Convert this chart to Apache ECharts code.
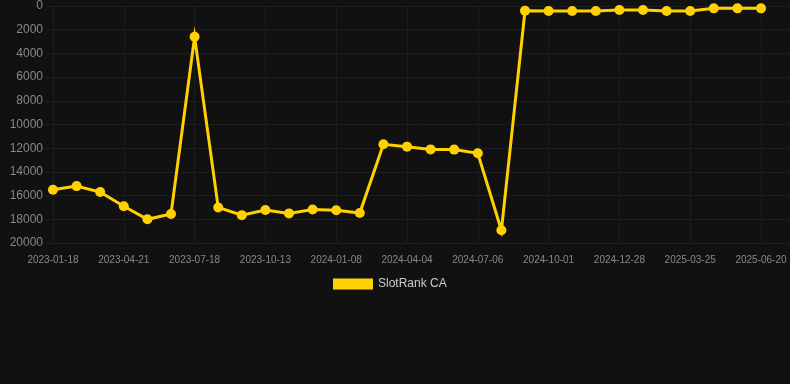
<!DOCTYPE html>
<html>
<head>
<meta charset="utf-8">
<script src="https://cdn.jsdelivr.net/npm/echarts@6/dist/echarts.min.js"></script>
<style>
html,body{margin:0;padding:0;background:#111111;}
#chart{width:790px;height:384px;}
</style>
</head>
<body>
<div id="chart"></div>
<script>
const categories = [
  "2023-01-18","2023-02-18","2023-03-20","2023-04-21","2023-05-20","2023-06-18",
  "2023-07-18","2023-08-17","2023-09-15","2023-10-13","2023-11-11","2023-12-10",
  "2024-01-08","2024-02-06","2024-03-06","2024-04-04","2024-05-05","2024-06-05",
  "2024-07-06","2024-08-04","2024-09-02","2024-10-01","2024-10-30","2024-11-28",
  "2024-12-28","2025-01-26","2025-02-24","2025-03-25","2025-04-23","2025-05-22",
  "2025-06-20"
];
const slotRankCA = [
  15500, 15200, 15700, 16900, 18000, 17550,
  2600, 17000, 17650, 17220, 17500, 17170,
  17240, 17470, 11670, 11870, 12100, 12120,
  12430, 18930, 400, 420, 420, 420,
  340, 340, 420, 420, 200, 200,
  200
];
const seriesName = "SlotRank CA";
const font = 'Arial, "Liberation Sans", sans-serif';
const gridColor = '#1d1d1d';

const chart = echarts.init(document.getElementById('chart'));
chart.setOption({
  backgroundColor: '#111111',
  animation: false,
  grid: [
    { left: 53, right: 29, top: 6, bottom: 141 },
    { left: 45, right: 0, top: 6, bottom: 141 }
  ],
  legend: {
    data: [seriesName],
    top: 273,
    left: 328,
    icon: 'rect',
    itemWidth: 40,
    itemHeight: 11,
    textStyle: { color: '#cccccc', fontSize: 12, fontFamily: font }
  },
  xAxis: [{
    type: 'category',
    data: categories,
    boundaryGap: false,
    axisLine: { show: false },
    axisTick: { show: false },
    axisLabel: { interval: 2, color: '#888888', fontSize: 10, margin: 12, fontFamily: font },
    splitLine: { show: true, interval: 2, lineStyle: { color: gridColor, width: 1 } }
  }, {
    gridIndex: 1,
    type: 'value',
    show: false,
    min: 0,
    max: 1
  }],
  yAxis: [{
    type: 'value',
    inverse: true,
    min: 0,
    max: 20000,
    interval: 2000,
    axisLine: { show: false },
    axisTick: { show: false },
    axisLabel: { color: '#888888', fontSize: 12, margin: 10, fontFamily: font, formatter: v => String(v) },
    splitLine: { show: false }
  }, {
    gridIndex: 1,
    type: 'value',
    inverse: true,
    min: 0,
    max: 20000,
    interval: 2000,
    axisLine: { show: false },
    axisTick: { show: false },
    axisLabel: { show: false },
    splitLine: { show: true, lineStyle: { color: gridColor, width: 1 } }
  }],
  series: [{
    name: seriesName,
    type: 'line',
    data: slotRankCA,
    symbol: 'circle',
    symbolSize: 10,
    itemStyle: { color: '#FFD100' },
    lineStyle: { color: '#FFD100', width: 3, join: 'miter', miterLimit: 10 },
    z: 3
  }]
});
</script>
</body>
</html>
